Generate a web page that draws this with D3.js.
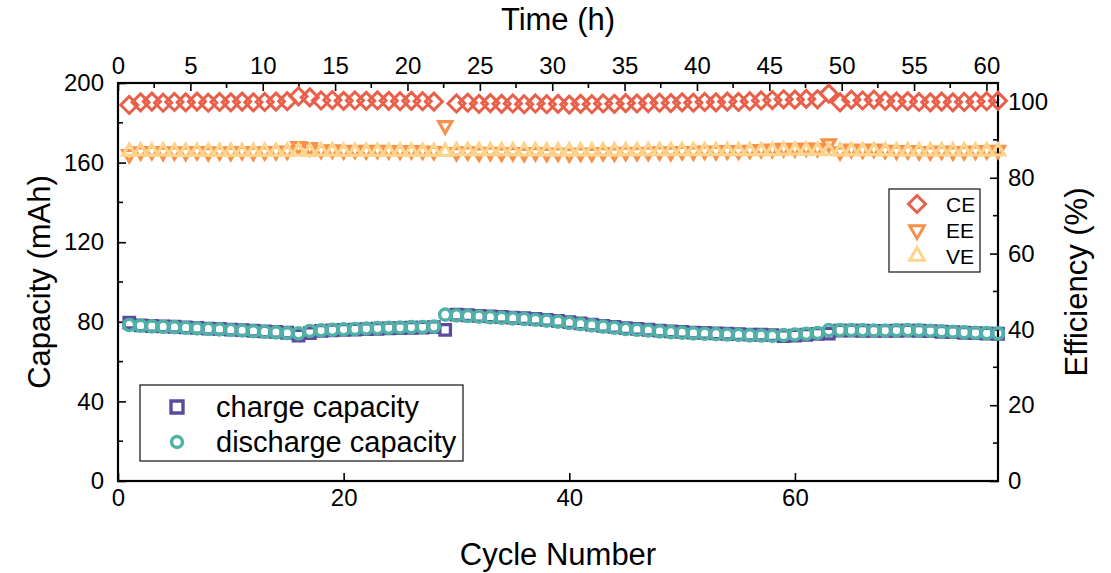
<!DOCTYPE html>
<html>
<head>
<meta charset="utf-8">
<script src="https://cdn.jsdelivr.net/npm/d3@7"></script>
<style>
  html, body { margin: 0; padding: 0; background: #fff; }
  svg { display: block; }
  text { font-family: "Liberation Sans", Arial, sans-serif; fill: #000; }
</style>
</head>
<body>
<svg id="chart" width="1111" height="573"></svg>
<script>
// ---------------- data ----------------
const cycles = d3.range(1, 79);

const chargeCapacity = [
  79.6,
  78.2, 77.9, 77.7, 77.5, 77.2, 76.9, 76.6, 76.4, 76.1, 75.8, 75.5, 75.2, 74.9, 74.5,
  73.1, 74.3,
  75.4, 75.7, 75.9, 76.1, 76.3, 76.5, 76.7, 76.8, 77.0, 77.1, 77.3,
  75.9,
  83.6, 83.3, 83.0, 82.7, 82.4, 82.1, 81.8, 81.4, 81.0, 80.5,
  79.8, 79.2, 78.6, 78.0, 77.4, 76.8, 76.4, 76.0, 75.6, 75.2,
  74.9, 74.6, 74.4, 74.2, 74.0, 73.8, 73.6, 73.5, 73.3,
  72.8, 73.1, 73.5, 73.9,
  74.1,
  75.6, 75.6, 75.5, 75.4, 75.4, 75.5, 75.6, 75.5, 75.3, 75.0, 74.8, 74.5, 74.3, 74.1, 74.0
];

const dischargeCapacity = [
  78.4, 78.0, 77.7, 77.5, 77.3, 77.0, 76.7, 76.4, 76.2, 75.9, 75.6, 75.3, 75.0, 74.7, 74.3, 74.2,
  75.4, 75.7, 76.0, 76.2, 76.4, 76.6, 76.8, 77.0, 77.1, 77.3, 77.4, 77.6,
  83.6,
  83.2, 82.9, 82.6, 82.3, 82.0, 81.7, 81.4, 81.0, 80.6, 80.1,
  79.4, 78.8, 78.2, 77.6, 77.0, 76.4, 76.0, 75.6, 75.2, 74.8,
  74.5, 74.2, 74.0, 73.8, 73.6, 73.4, 73.2, 73.1, 72.9,
  73.3, 73.6, 74.0, 74.4,
  75.8, 75.8, 75.8, 75.7, 75.6, 75.6, 75.7, 75.8, 75.7, 75.5, 75.2, 75.0, 74.7, 74.5, 74.3, 74.2
];

const coulombicEff = [
  99.2,
  99.9, 100.1, 99.8, 100.0, 99.9, 100.1, 99.8, 100.0, 99.9, 100.1, 99.9, 100.0, 100.1, 100.2,
  101.5, 101.2,
  100.4, 100.5, 100.3, 100.4, 100.3, 100.4, 100.3, 100.2, 100.3, 100.2, 100.1,
  110.0,
  99.6, 99.8, 99.5, 99.7, 99.5, 99.6, 99.4, 99.6, 99.4, 99.5,
  99.3, 99.5, 99.4, 99.6, 99.5, 99.7, 99.6, 99.7, 99.8, 99.7,
  99.9, 99.8, 100.0, 99.9, 100.1, 100.0, 100.2, 100.4, 100.5,
  100.7, 100.6, 100.8, 100.7,
  102.2,
  99.9, 100.6, 100.4, 100.6, 100.3, 100.1, 100.2, 100.0, 99.9, 100.1, 99.9, 100.0, 100.1, 100.2, 100.3
];

const energyEff = [
  86.2,
  86.9, 87.0, 86.8, 86.9, 86.8, 87.0, 86.7, 86.9, 86.8, 87.0, 86.8, 86.9, 87.0, 87.1,
  88.3, 88.0,
  87.3, 87.4, 87.2, 87.3, 87.2, 87.3, 87.2, 87.1, 87.2, 87.1, 87.0,
  93.8,
  86.7, 86.9, 86.6, 86.8, 86.6, 86.7, 86.5, 86.7, 86.5, 86.6,
  86.4, 86.6, 86.5, 86.7, 86.6, 86.8, 86.7, 86.8, 86.9, 86.8,
  87.0, 86.9, 87.1, 87.0, 87.2, 87.1, 87.3, 87.5, 87.6,
  87.8, 87.7, 87.9, 87.8,
  89.0,
  86.9, 87.6, 87.4, 87.6, 87.3, 87.1, 87.2, 87.0, 86.9, 87.1, 86.9, 87.0, 87.1, 87.2, 87.3
];

const voltageEff = [
  86.9,
  87.0, 86.9, 87.0, 86.9, 86.9, 86.9, 86.9, 86.9, 86.9, 86.9, 86.9, 86.9, 86.9, 86.9,
  87.0, 86.9,
  87.0, 87.0, 86.9, 86.9, 86.9, 86.9, 86.9, 86.9, 86.9, 86.9, 86.9,
  86.9,
  87.1, 87.1, 87.1, 87.1, 87.1, 87.1, 87.0, 87.1, 87.0, 87.0,
  87.0, 87.0, 87.0, 87.0, 87.0, 87.1, 87.1, 87.1, 87.1, 87.1,
  87.1, 87.1, 87.1, 87.1, 87.1, 87.1, 87.1, 87.1, 87.1,
  87.2, 87.2, 87.2, 87.2,
  87.1,
  87.0, 87.1, 87.1, 87.1, 87.1, 87.0, 87.0, 87.0, 87.0, 87.0, 87.0, 87.0, 87.0, 87.0, 87.0
];

const cycleTicks = [0, 20, 40, 60];
const timeTicks = [0, 5, 10, 15, 20, 25, 30, 35, 40, 45, 50, 55, 60];
const capacityTicks = [0, 40, 80, 120, 160, 200];
const efficiencyTicks = [0, 20, 40, 60, 80, 100];

// ---------------- layout ----------------
const L = 118, R = 998, T = 83, B = 481;
const svg = d3.select("#chart");

const x = d3.scaleLinear().domain([0, 78]).range([L, R]);
const xTime = d3.scaleLinear().domain([0, 60.8]).range([L, R]);
const yCap = d3.scaleLinear().domain([0, 200]).range([B, T]);
const yEff = d3.scaleLinear().domain([0, 105]).range([B, T]);

const colors = {
  charge: "#5B4B9E", discharge: "#50B2A7",
  CE: "#E9604A", EE: "#F6904A", VE: "#FDD48C"
};

// custom symbol types
const diamondType = { draw(ctx, size) { const r = Math.sqrt(size) / 2;
  ctx.moveTo(0, -r); ctx.lineTo(r, 0); ctx.lineTo(0, r); ctx.lineTo(-r, 0); ctx.closePath(); } };
const triDownType = { draw(ctx, size) { const r = Math.sqrt(size) / 2; const s = r * Math.sin(Math.PI / 3);
  ctx.moveTo(-s, -r / 2); ctx.lineTo(s, -r / 2); ctx.lineTo(0, r); ctx.closePath(); } };
const triUpType = { draw(ctx, size) { const r = Math.sqrt(size) / 2; const s = r * Math.sin(Math.PI / 3);
  ctx.moveTo(-s, r / 2); ctx.lineTo(s, r / 2); ctx.lineTo(0, -r); ctx.closePath(); } };
const squareType = { draw(ctx, size) { const r = Math.sqrt(size) / 2; ctx.rect(-r, -r, 2 * r, 2 * r); } };
const circleType = { draw(ctx, size) { const r = Math.sqrt(size) / 2; ctx.moveTo(r, 0); ctx.arc(0, 0, r, 0, 2 * Math.PI); } };

// ---------------- axes ----------------
function styleAxis(g) {
  g.select(".domain").remove();
  g.selectAll(".tick line").attr("stroke", "#000").attr("stroke-width", 1.6);
  g.selectAll("text").style("font-size", "24px").style("font-family", '"Liberation Sans", Arial, sans-serif');
}

const minor = svg.append("g").attr("stroke", "#000").attr("stroke-width", 1.6);
minor.selectAll(".mL").data(d3.range(20, 200, 40)).join("line")
  .attr("x1", L).attr("x2", L + 5).attr("y1", d => yCap(d)).attr("y2", d => yCap(d));
minor.selectAll(".mR").data(d3.range(10, 105, 20)).join("line")
  .attr("x1", R).attr("x2", R - 5).attr("y1", d => yEff(d)).attr("y2", d => yEff(d));
minor.selectAll(".mT").data(d3.range(2.5, 60.8, 5)).join("line")
  .attr("x1", d => xTime(d)).attr("x2", d => xTime(d)).attr("y1", T).attr("y2", T + 5);

svg.append("g").attr("transform", `translate(0,${B})`)
  .call(d3.axisBottom(x).tickValues(cycleTicks).tickSizeInner(-8).tickSizeOuter(0).tickPadding(8))
  .call(styleAxis);
svg.append("g").attr("transform", `translate(0,${T})`)
  .call(d3.axisTop(xTime).tickValues(timeTicks).tickSizeInner(-8).tickSizeOuter(0).tickPadding(9))
  .call(styleAxis);
svg.append("g").attr("transform", `translate(${L},0)`)
  .call(d3.axisLeft(yCap).tickValues(capacityTicks).tickSizeInner(-8).tickSizeOuter(0).tickPadding(14))
  .call(styleAxis);
svg.append("g").attr("transform", `translate(${R},0)`)
  .call(d3.axisRight(yEff).tickValues(efficiencyTicks).tickSizeInner(-8).tickSizeOuter(0).tickPadding(10))
  .call(styleAxis);

svg.append("rect").attr("x", L).attr("y", T).attr("width", R - L).attr("height", B - T)
  .attr("fill", "none").attr("stroke", "#000").attr("stroke-width", 2.2);

// axis titles
svg.append("text").attr("x", (L + R) / 2).attr("y", 565).attr("text-anchor", "middle")
  .style("font-size", "31px").text("Cycle Number");
svg.append("text").attr("x", (L + R) / 2).attr("y", 30).attr("text-anchor", "middle")
  .style("font-size", "31px").text("Time (h)");
svg.append("text").attr("transform", `translate(50,282) rotate(-90)`).attr("text-anchor", "middle")
  .style("font-size", "31px").text("Capacity (mAh)");
svg.append("text").attr("transform", `translate(1087,282) rotate(-90)`).attr("text-anchor", "middle")
  .style("font-size", "31px").text("Efficiency (%)");

// ---------------- series ----------------
function drawSeries(values, yScale, type, size, color, sw) {
  const pts = cycles.map((c, i) => ({ c, v: values[i] }))
    .filter(d => d.v >= yScale.domain()[0] && d.v <= yScale.domain()[1]);
  svg.append("g").selectAll("path").data(pts).join("path")
    .attr("transform", d => `translate(${x(d.c)},${yScale(d.v)})`)
    .attr("d", d3.symbol().type(type).size(size))
    .attr("fill", "none").attr("stroke", color).attr("stroke-width", sw)
    .attr("stroke-linejoin", "miter");
}

drawSeries(coulombicEff, yEff, diamondType, 17 * 17, colors.CE, 3);
drawSeries(energyEff, yEff, triDownType, 15 * 15, colors.EE, 3.2);
drawSeries(voltageEff, yEff, triUpType, 15 * 15, colors.VE, 3.2);
drawSeries(chargeCapacity, yCap, squareType, 10.5 * 10.5, colors.charge, 3.3);
drawSeries(dischargeCapacity, yCap, circleType, 11.2 * 11.2, colors.discharge, 3.4);

// ---------------- legends ----------------
const capLegend = [
  { label: "charge capacity", type: squareType, color: colors.charge, size: 12 * 12 },
  { label: "discharge capacity", type: circleType, color: colors.discharge, size: 11 * 11 }
];
const lg1 = svg.append("g");
lg1.append("rect").attr("x", 140).attr("y", 385).attr("width", 323).attr("height", 76)
  .attr("fill", "#fff").attr("stroke", "#222").attr("stroke-width", 1.3);
capLegend.forEach((d, i) => {
  const cy = 407 + i * 35;
  lg1.append("path").attr("transform", `translate(177,${cy})`)
    .attr("d", d3.symbol().type(d.type).size(d.size))
    .attr("fill", "none").attr("stroke", d.color).attr("stroke-width", 3.4);
  lg1.append("text").attr("x", 216).attr("y", cy + 10).style("font-size", "29px").text(d.label);
});

const effLegend = [
  { label: "CE", type: diamondType, color: colors.CE, size: 17 * 17 },
  { label: "EE", type: triDownType, color: colors.EE, size: 17 * 17 },
  { label: "VE", type: triUpType, color: colors.VE, size: 17 * 17 }
];
const lg2 = svg.append("g");
lg2.append("rect").attr("x", 889).attr("y", 189).attr("width", 91).attr("height", 83)
  .attr("fill", "#fff").attr("stroke", "#222").attr("stroke-width", 1.3);
effLegend.forEach((d, i) => {
  const cy = 204 + i * 26;
  lg2.append("path").attr("transform", `translate(917,${cy})`)
    .attr("d", d3.symbol().type(d.type).size(d.size))
    .attr("fill", "none").attr("stroke", d.color).attr("stroke-width", 3);
  lg2.append("text").attr("x", 946).attr("y", cy + 8).style("font-size", "21px").text(d.label);
});
</script>
</body>
</html>
